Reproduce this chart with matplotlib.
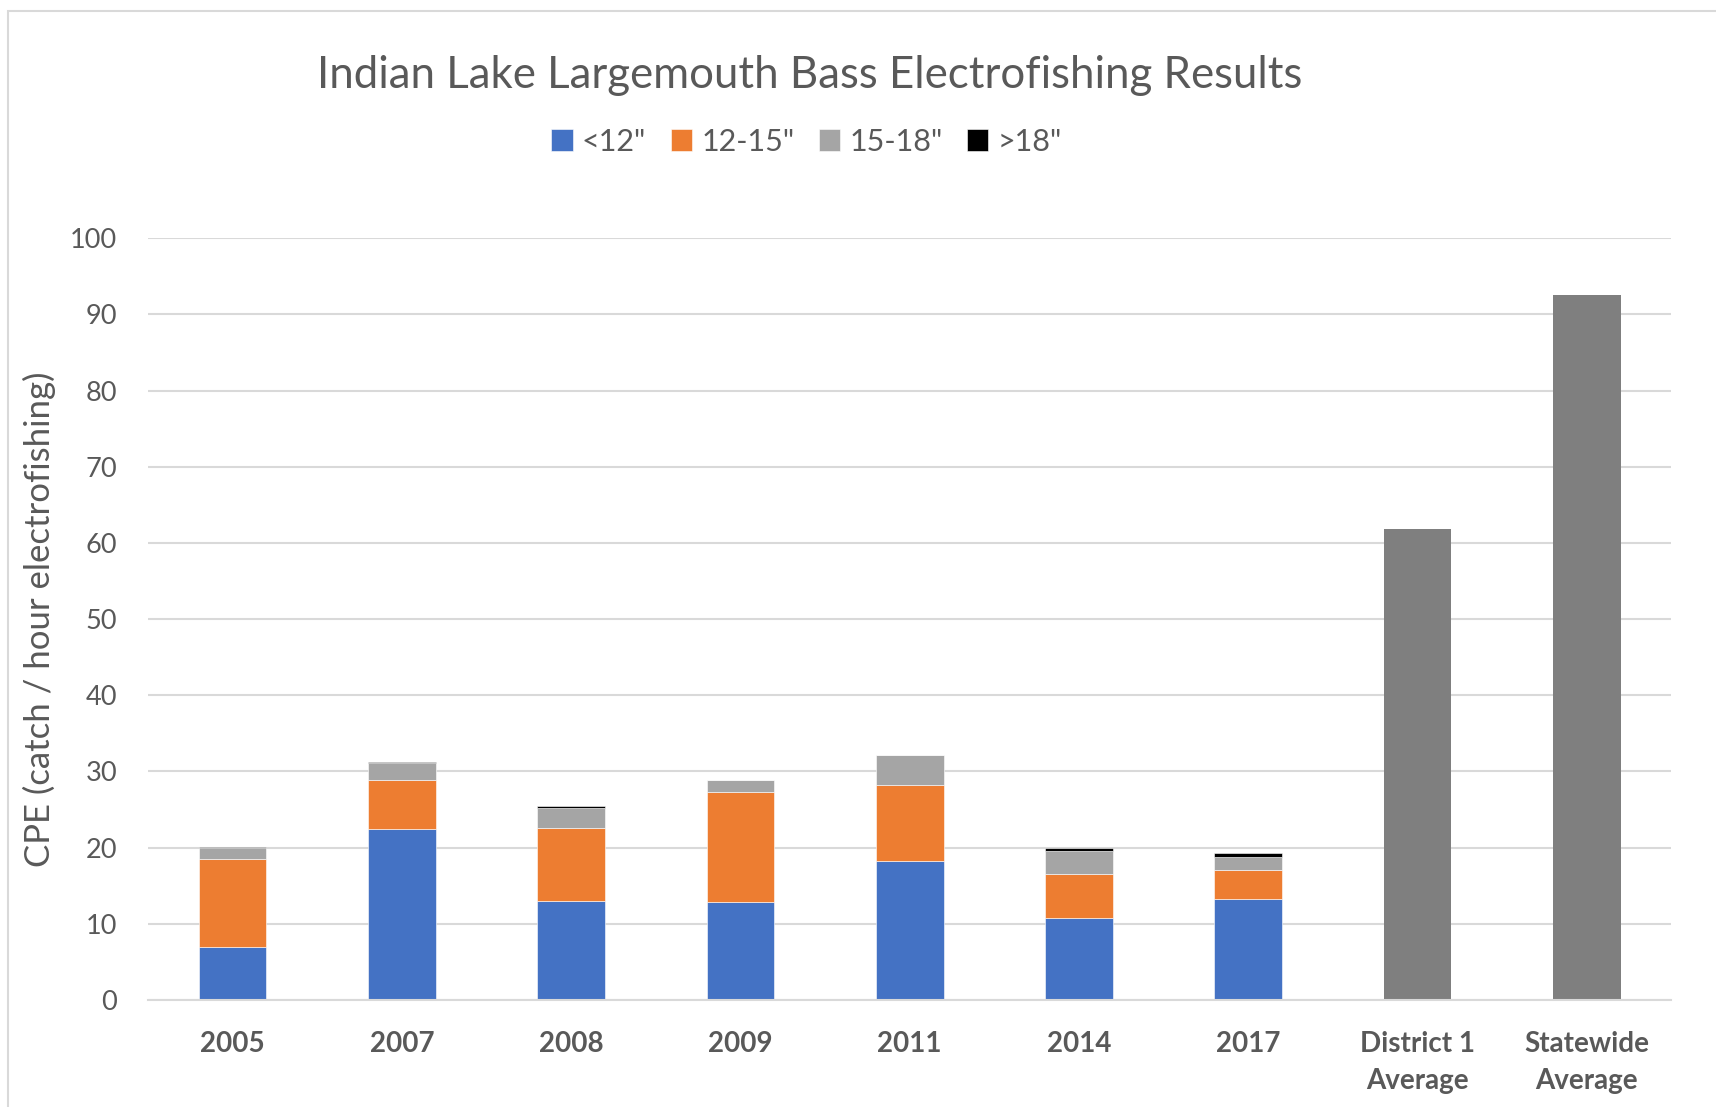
import numpy as np
import matplotlib.pyplot as plt
import matplotlib.patches as patches

# data
categories = ['2005', '2007', '2008', '2009', '2011', '2014', '2017',
              'District 1\nAverage', 'Statewide\nAverage']
under12 = [7.0, 22.4, 13.0, 12.8, 18.3, 10.8, 13.2, 0, 0]
from12to15 = [11.55, 6.45, 9.6, 14.5, 9.9, 5.8, 3.8, 0, 0]
from15to18 = [1.4, 2.25, 2.65, 1.55, 4.0, 2.9, 1.8, 0, 0]
over18 = [0.15, 0.2, 0.25, 0.0, 0.0, 0.45, 0.45, 0, 0]
averages = [0, 0, 0, 0, 0, 0, 0, 61.9, 92.6]

series_labels = ['<12"', '12-15"', '15-18"', '>18"']
colors = ['#4472C4', '#ED7D31', '#A5A5A5', '#000000']

plt.rcParams['font.family'] = ['Lato', 'DejaVu Sans']
txt = '#595959'

fig = plt.figure(figsize=(17.16, 11.07), dpi=100)
ax = fig.add_axes([0.0862, 0.0967, 0.8878, 0.688])

x = np.arange(len(categories))
w = 0.4
bottom = np.zeros(len(categories))
handles = []
for vals, lab, col in zip([under12, from12to15, from15to18, over18], series_labels, colors):
    vals = np.array(vals)
    b = ax.bar(x, vals, w, bottom=bottom, color=col, label=lab,
               edgecolor='white', linewidth=0.4)
    handles.append(b)
    bottom += vals
ax.bar(x, averages, w, color='#7F7F7F')

ax.set_xlim(-0.5, len(categories) - 0.5)
ax.set_ylim(0, 100)
ax.set_yticks(np.arange(0, 101, 10))
ax.yaxis.grid(True, color='#D9D9D9', linewidth=1.5)
ax.set_axisbelow(True)
for s in ['top', 'right', 'left']:
    ax.spines[s].set_visible(False)
ax.spines['bottom'].set_color('#D9D9D9')
ax.spines['bottom'].set_linewidth(1.5)
ax.tick_params(axis='both', length=0, colors=txt)
ax.tick_params(axis='y', labelsize=19.5, pad=22)
ax.tick_params(axis='x', labelsize=20, pad=22)
ax.set_xticks(x)
ax.set_xticklabels(categories, fontweight='bold', linespacing=1.55)
ax.set_ylabel('CPE (catch / hour electrofishing)', fontsize=25, color=txt, labelpad=10)

fig.text(0.472, 0.932, 'Indian Lake Largemouth Bass Electrofishing Results',
         ha='center', va='center', fontsize=31.5, color=txt)
fig.legend(handles=handles, labels=series_labels, loc='center',
           bbox_to_anchor=(0.47, 0.872), ncol=4, frameon=False,
           fontsize=22, labelcolor=txt, handlelength=0.7, handleheight=0.7,
           handletextpad=0.3, columnspacing=0.8)

# outer chart frame
fig.patches.append(patches.Rectangle((8 / 1716, -0.05), 1.2, 1 - 11 / 1107 + 0.05,
                                     transform=fig.transFigure, fill=False,
                                     edgecolor='#D9D9D9', linewidth=1.5))

fig.savefig('out.png', dpi=100)
